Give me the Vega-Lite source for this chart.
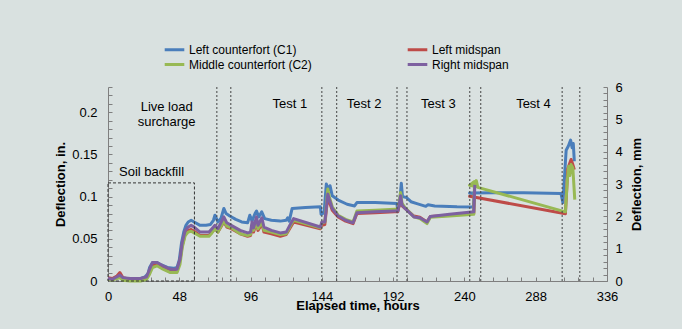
{
  "$schema": "https://vega.github.io/schema/vega-lite/v6.json",
  "width": 499,
  "height": 194,
  "autosize": {"type": "none"},
  "padding": {"left": 108, "top": 87, "right": 75, "bottom": 48},
  "background": "#d9e1e0",
  "config": {
    "font": "Liberation Sans",
    "view": {"stroke": null},
    "axis": {
      "labelFontSize": 13, "titleFontSize": 13, "titleFontWeight": "bold",
      "labelColor": "#000000", "titleColor": "#000000",
      "domainColor": "#7f7f7f", "tickColor": "#7f7f7f", "grid": false,
      "labelFont": "Liberation Sans", "titleFont": "Liberation Sans",
      "labelOverlap": false, "labelFlush": false, "labelBound": false
    },
    "text": {"font": "Liberation Sans"}
  },
  "datasets": {
    "lines": [
      {"s": "Left counterfort (C1)", "t": 0, "d": 0.003},
      {"s": "Left counterfort (C1)", "t": 2, "d": 0.002},
      {"s": "Left counterfort (C1)", "t": 5, "d": 0.004},
      {"s": "Left counterfort (C1)", "t": 7, "d": 0.006},
      {"s": "Left counterfort (C1)", "t": 9, "d": 0.004},
      {"s": "Left counterfort (C1)", "t": 12, "d": 0.003},
      {"s": "Left counterfort (C1)", "t": 18, "d": 0.003},
      {"s": "Left counterfort (C1)", "t": 22, "d": 0.003},
      {"s": "Left counterfort (C1)", "t": 25, "d": 0.005},
      {"s": "Left counterfort (C1)", "t": 27, "d": 0.009},
      {"s": "Left counterfort (C1)", "t": 28, "d": 0.016},
      {"s": "Left counterfort (C1)", "t": 30, "d": 0.022},
      {"s": "Left counterfort (C1)", "t": 33, "d": 0.022},
      {"s": "Left counterfort (C1)", "t": 36, "d": 0.019},
      {"s": "Left counterfort (C1)", "t": 40, "d": 0.016},
      {"s": "Left counterfort (C1)", "t": 44, "d": 0.015},
      {"s": "Left counterfort (C1)", "t": 46.5, "d": 0.016},
      {"s": "Left counterfort (C1)", "t": 48, "d": 0.025},
      {"s": "Left counterfort (C1)", "t": 49.5, "d": 0.045},
      {"s": "Left counterfort (C1)", "t": 51, "d": 0.058},
      {"s": "Left counterfort (C1)", "t": 52.5, "d": 0.066},
      {"s": "Left counterfort (C1)", "t": 54, "d": 0.07},
      {"s": "Left counterfort (C1)", "t": 56, "d": 0.072},
      {"s": "Left counterfort (C1)", "t": 58, "d": 0.07},
      {"s": "Left counterfort (C1)", "t": 62, "d": 0.066},
      {"s": "Left counterfort (C1)", "t": 66, "d": 0.066},
      {"s": "Left counterfort (C1)", "t": 69, "d": 0.067},
      {"s": "Left counterfort (C1)", "t": 71, "d": 0.072},
      {"s": "Left counterfort (C1)", "t": 72, "d": 0.078},
      {"s": "Left counterfort (C1)", "t": 74, "d": 0.07},
      {"s": "Left counterfort (C1)", "t": 76, "d": 0.074},
      {"s": "Left counterfort (C1)", "t": 78, "d": 0.086},
      {"s": "Left counterfort (C1)", "t": 79.5, "d": 0.08},
      {"s": "Left counterfort (C1)", "t": 82, "d": 0.077},
      {"s": "Left counterfort (C1)", "t": 86, "d": 0.073},
      {"s": "Left counterfort (C1)", "t": 90, "d": 0.07},
      {"s": "Left counterfort (C1)", "t": 94, "d": 0.069},
      {"s": "Left counterfort (C1)", "t": 95.5, "d": 0.078},
      {"s": "Left counterfort (C1)", "t": 97, "d": 0.071},
      {"s": "Left counterfort (C1)", "t": 99, "d": 0.08},
      {"s": "Left counterfort (C1)", "t": 100, "d": 0.083},
      {"s": "Left counterfort (C1)", "t": 101.5, "d": 0.076},
      {"s": "Left counterfort (C1)", "t": 103.5, "d": 0.082},
      {"s": "Left counterfort (C1)", "t": 105.5, "d": 0.074},
      {"s": "Left counterfort (C1)", "t": 110, "d": 0.072},
      {"s": "Left counterfort (C1)", "t": 116, "d": 0.071},
      {"s": "Left counterfort (C1)", "t": 120, "d": 0.072},
      {"s": "Left counterfort (C1)", "t": 121, "d": 0.075},
      {"s": "Left counterfort (C1)", "t": 122, "d": 0.071},
      {"s": "Left counterfort (C1)", "t": 124, "d": 0.086},
      {"s": "Left counterfort (C1)", "t": 133, "d": 0.087},
      {"s": "Left counterfort (C1)", "t": 143, "d": 0.088},
      {"s": "Left counterfort (C1)", "t": 143.5, "d": 0.079},
      {"s": "Left counterfort (C1)", "t": 145.5, "d": 0.081},
      {"s": "Left counterfort (C1)", "t": 147, "d": 0.115},
      {"s": "Left counterfort (C1)", "t": 148.5, "d": 0.108},
      {"s": "Left counterfort (C1)", "t": 149.5, "d": 0.113},
      {"s": "Left counterfort (C1)", "t": 151, "d": 0.101},
      {"s": "Left counterfort (C1)", "t": 155, "d": 0.096},
      {"s": "Left counterfort (C1)", "t": 161, "d": 0.091},
      {"s": "Left counterfort (C1)", "t": 166, "d": 0.089},
      {"s": "Left counterfort (C1)", "t": 167.6, "d": 0.093},
      {"s": "Left counterfort (C1)", "t": 180, "d": 0.093},
      {"s": "Left counterfort (C1)", "t": 194.5, "d": 0.092},
      {"s": "Left counterfort (C1)", "t": 195.2, "d": 0.082},
      {"s": "Left counterfort (C1)", "t": 196.5, "d": 0.095},
      {"s": "Left counterfort (C1)", "t": 197.5, "d": 0.116},
      {"s": "Left counterfort (C1)", "t": 198.3, "d": 0.1},
      {"s": "Left counterfort (C1)", "t": 201, "d": 0.099},
      {"s": "Left counterfort (C1)", "t": 204, "d": 0.094},
      {"s": "Left counterfort (C1)", "t": 208, "d": 0.0917},
      {"s": "Left counterfort (C1)", "t": 214, "d": 0.0885},
      {"s": "Left counterfort (C1)", "t": 215.5, "d": 0.0905},
      {"s": "Left counterfort (C1)", "t": 220, "d": 0.089},
      {"s": "Left counterfort (C1)", "t": 235, "d": 0.088},
      {"s": "Left counterfort (C1)", "t": 246, "d": 0.0877},
      {"s": "Left counterfort (C1)", "t": 246.6, "d": 0.1035},
      {"s": "Left counterfort (C1)", "t": 243.5, "d": 0.1043},
      {"s": "Left counterfort (C1)", "t": 260, "d": 0.1045},
      {"s": "Left counterfort (C1)", "t": 280, "d": 0.1045},
      {"s": "Left counterfort (C1)", "t": 305, "d": 0.1037},
      {"s": "Left counterfort (C1)", "t": 306.3, "d": 0.093},
      {"s": "Left counterfort (C1)", "t": 308.5, "d": 0.155},
      {"s": "Left counterfort (C1)", "t": 310, "d": 0.16},
      {"s": "Left counterfort (C1)", "t": 311.5, "d": 0.167},
      {"s": "Left counterfort (C1)", "t": 312.5, "d": 0.158},
      {"s": "Left counterfort (C1)", "t": 313.3, "d": 0.163},
      {"s": "Left counterfort (C1)", "t": 314, "d": 0.142},

      {"s": "Left midspan", "t": 0, "d": 0.004},
      {"s": "Left midspan", "t": 3, "d": 0.003},
      {"s": "Left midspan", "t": 6, "d": 0.006},
      {"s": "Left midspan", "t": 8, "d": 0.01},
      {"s": "Left midspan", "t": 10, "d": 0.004},
      {"s": "Left midspan", "t": 15, "d": 0.002},
      {"s": "Left midspan", "t": 22, "d": 0.002},
      {"s": "Left midspan", "t": 26, "d": 0.004},
      {"s": "Left midspan", "t": 28, "d": 0.012},
      {"s": "Left midspan", "t": 30, "d": 0.019},
      {"s": "Left midspan", "t": 33, "d": 0.02},
      {"s": "Left midspan", "t": 37, "d": 0.016},
      {"s": "Left midspan", "t": 42, "d": 0.013},
      {"s": "Left midspan", "t": 46.5, "d": 0.013},
      {"s": "Left midspan", "t": 48.5, "d": 0.025},
      {"s": "Left midspan", "t": 50, "d": 0.042},
      {"s": "Left midspan", "t": 52, "d": 0.056},
      {"s": "Left midspan", "t": 54, "d": 0.06},
      {"s": "Left midspan", "t": 56, "d": 0.061},
      {"s": "Left midspan", "t": 58, "d": 0.059},
      {"s": "Left midspan", "t": 62, "d": 0.054},
      {"s": "Left midspan", "t": 68, "d": 0.054},
      {"s": "Left midspan", "t": 70, "d": 0.058},
      {"s": "Left midspan", "t": 72, "d": 0.062},
      {"s": "Left midspan", "t": 74, "d": 0.058},
      {"s": "Left midspan", "t": 78, "d": 0.07},
      {"s": "Left midspan", "t": 80, "d": 0.064},
      {"s": "Left midspan", "t": 83, "d": 0.062},
      {"s": "Left midspan", "t": 89, "d": 0.056},
      {"s": "Left midspan", "t": 94, "d": 0.053},
      {"s": "Left midspan", "t": 96, "d": 0.054},
      {"s": "Left midspan", "t": 97, "d": 0.064},
      {"s": "Left midspan", "t": 98, "d": 0.058},
      {"s": "Left midspan", "t": 100, "d": 0.07},
      {"s": "Left midspan", "t": 101, "d": 0.06},
      {"s": "Left midspan", "t": 103.6, "d": 0.068},
      {"s": "Left midspan", "t": 105, "d": 0.058},
      {"s": "Left midspan", "t": 110, "d": 0.056},
      {"s": "Left midspan", "t": 116, "d": 0.053},
      {"s": "Left midspan", "t": 120, "d": 0.055},
      {"s": "Left midspan", "t": 123, "d": 0.064},
      {"s": "Left midspan", "t": 125, "d": 0.07},
      {"s": "Left midspan", "t": 143, "d": 0.062},
      {"s": "Left midspan", "t": 144, "d": 0.066},
      {"s": "Left midspan", "t": 146, "d": 0.067},
      {"s": "Left midspan", "t": 148, "d": 0.1},
      {"s": "Left midspan", "t": 149, "d": 0.094},
      {"s": "Left midspan", "t": 151, "d": 0.084},
      {"s": "Left midspan", "t": 155, "d": 0.076},
      {"s": "Left midspan", "t": 160, "d": 0.071},
      {"s": "Left midspan", "t": 165, "d": 0.068},
      {"s": "Left midspan", "t": 167.6, "d": 0.08},
      {"s": "Left midspan", "t": 180, "d": 0.081},
      {"s": "Left midspan", "t": 193, "d": 0.082},
      {"s": "Left midspan", "t": 195, "d": 0.082},
      {"s": "Left midspan", "t": 196, "d": 0.089},
      {"s": "Left midspan", "t": 197, "d": 0.097},
      {"s": "Left midspan", "t": 198, "d": 0.089},
      {"s": "Left midspan", "t": 200, "d": 0.086},
      {"s": "Left midspan", "t": 206, "d": 0.077},
      {"s": "Left midspan", "t": 210, "d": 0.0755},
      {"s": "Left midspan", "t": 214.8, "d": 0.07},
      {"s": "Left midspan", "t": 217, "d": 0.0765},
      {"s": "Left midspan", "t": 230, "d": 0.078},
      {"s": "Left midspan", "t": 246.3, "d": 0.08},
      {"s": "Left midspan", "t": 246.8, "d": 0.0995},
      {"s": "Left midspan", "t": 243.5, "d": 0.1004},
      {"s": "Left midspan", "t": 308, "d": 0.0798},
      {"s": "Left midspan", "t": 309.6, "d": 0.133},
      {"s": "Left midspan", "t": 311.8, "d": 0.144},
      {"s": "Left midspan", "t": 313, "d": 0.138},
      {"s": "Left midspan", "t": 314, "d": 0.132},

      {"s": "Middle counterfort (C2)", "t": 0, "d": 0.002},
      {"s": "Middle counterfort (C2)", "t": 3, "d": 0.001},
      {"s": "Middle counterfort (C2)", "t": 6, "d": 0.003},
      {"s": "Middle counterfort (C2)", "t": 8, "d": 0.004},
      {"s": "Middle counterfort (C2)", "t": 10, "d": 0.001},
      {"s": "Middle counterfort (C2)", "t": 15, "d": 0.0},
      {"s": "Middle counterfort (C2)", "t": 22, "d": 0.0},
      {"s": "Middle counterfort (C2)", "t": 26, "d": 0.002},
      {"s": "Middle counterfort (C2)", "t": 28, "d": 0.008},
      {"s": "Middle counterfort (C2)", "t": 30, "d": 0.016},
      {"s": "Middle counterfort (C2)", "t": 33, "d": 0.018},
      {"s": "Middle counterfort (C2)", "t": 37, "d": 0.014},
      {"s": "Middle counterfort (C2)", "t": 42, "d": 0.01},
      {"s": "Middle counterfort (C2)", "t": 46.5, "d": 0.01},
      {"s": "Middle counterfort (C2)", "t": 48.5, "d": 0.02},
      {"s": "Middle counterfort (C2)", "t": 50, "d": 0.04},
      {"s": "Middle counterfort (C2)", "t": 52, "d": 0.054},
      {"s": "Middle counterfort (C2)", "t": 54, "d": 0.058},
      {"s": "Middle counterfort (C2)", "t": 56, "d": 0.059},
      {"s": "Middle counterfort (C2)", "t": 58, "d": 0.057},
      {"s": "Middle counterfort (C2)", "t": 62, "d": 0.053},
      {"s": "Middle counterfort (C2)", "t": 68, "d": 0.053},
      {"s": "Middle counterfort (C2)", "t": 70, "d": 0.057},
      {"s": "Middle counterfort (C2)", "t": 72, "d": 0.062},
      {"s": "Middle counterfort (C2)", "t": 74, "d": 0.058},
      {"s": "Middle counterfort (C2)", "t": 78, "d": 0.071},
      {"s": "Middle counterfort (C2)", "t": 80, "d": 0.065},
      {"s": "Middle counterfort (C2)", "t": 83, "d": 0.063},
      {"s": "Middle counterfort (C2)", "t": 89, "d": 0.056},
      {"s": "Middle counterfort (C2)", "t": 94, "d": 0.054},
      {"s": "Middle counterfort (C2)", "t": 96, "d": 0.055},
      {"s": "Middle counterfort (C2)", "t": 97, "d": 0.066},
      {"s": "Middle counterfort (C2)", "t": 98, "d": 0.06},
      {"s": "Middle counterfort (C2)", "t": 100, "d": 0.071},
      {"s": "Middle counterfort (C2)", "t": 101, "d": 0.062},
      {"s": "Middle counterfort (C2)", "t": 103.6, "d": 0.07},
      {"s": "Middle counterfort (C2)", "t": 105, "d": 0.06},
      {"s": "Middle counterfort (C2)", "t": 110, "d": 0.058},
      {"s": "Middle counterfort (C2)", "t": 116, "d": 0.055},
      {"s": "Middle counterfort (C2)", "t": 120, "d": 0.056},
      {"s": "Middle counterfort (C2)", "t": 123, "d": 0.066},
      {"s": "Middle counterfort (C2)", "t": 125, "d": 0.072},
      {"s": "Middle counterfort (C2)", "t": 143, "d": 0.063},
      {"s": "Middle counterfort (C2)", "t": 144, "d": 0.069},
      {"s": "Middle counterfort (C2)", "t": 146, "d": 0.07},
      {"s": "Middle counterfort (C2)", "t": 148, "d": 0.109},
      {"s": "Middle counterfort (C2)", "t": 149, "d": 0.1},
      {"s": "Middle counterfort (C2)", "t": 151, "d": 0.088},
      {"s": "Middle counterfort (C2)", "t": 155, "d": 0.078},
      {"s": "Middle counterfort (C2)", "t": 160, "d": 0.073},
      {"s": "Middle counterfort (C2)", "t": 165, "d": 0.07},
      {"s": "Middle counterfort (C2)", "t": 167.6, "d": 0.083},
      {"s": "Middle counterfort (C2)", "t": 180, "d": 0.084},
      {"s": "Middle counterfort (C2)", "t": 193, "d": 0.085},
      {"s": "Middle counterfort (C2)", "t": 195, "d": 0.085},
      {"s": "Middle counterfort (C2)", "t": 196, "d": 0.092},
      {"s": "Middle counterfort (C2)", "t": 197, "d": 0.105},
      {"s": "Middle counterfort (C2)", "t": 198, "d": 0.092},
      {"s": "Middle counterfort (C2)", "t": 200, "d": 0.087},
      {"s": "Middle counterfort (C2)", "t": 206, "d": 0.076},
      {"s": "Middle counterfort (C2)", "t": 210, "d": 0.074},
      {"s": "Middle counterfort (C2)", "t": 214.8, "d": 0.068},
      {"s": "Middle counterfort (C2)", "t": 217, "d": 0.0755},
      {"s": "Middle counterfort (C2)", "t": 230, "d": 0.077},
      {"s": "Middle counterfort (C2)", "t": 246.3, "d": 0.079},
      {"s": "Middle counterfort (C2)", "t": 246.8, "d": 0.118},
      {"s": "Middle counterfort (C2)", "t": 243.5, "d": 0.1135},
      {"s": "Middle counterfort (C2)", "t": 247.5, "d": 0.112},
      {"s": "Middle counterfort (C2)", "t": 248, "d": 0.119},
      {"s": "Middle counterfort (C2)", "t": 249, "d": 0.111},
      {"s": "Middle counterfort (C2)", "t": 308, "d": 0.082},
      {"s": "Middle counterfort (C2)", "t": 309.3, "d": 0.12},
      {"s": "Middle counterfort (C2)", "t": 310.2, "d": 0.136},
      {"s": "Middle counterfort (C2)", "t": 311, "d": 0.125},
      {"s": "Middle counterfort (C2)", "t": 311.8, "d": 0.138},
      {"s": "Middle counterfort (C2)", "t": 313, "d": 0.134},
      {"s": "Middle counterfort (C2)", "t": 314.3, "d": 0.0965},

      {"s": "Right midspan", "t": 0, "d": 0.003},
      {"s": "Right midspan", "t": 3, "d": 0.002},
      {"s": "Right midspan", "t": 6, "d": 0.005},
      {"s": "Right midspan", "t": 8, "d": 0.007},
      {"s": "Right midspan", "t": 10, "d": 0.004},
      {"s": "Right midspan", "t": 15, "d": 0.003},
      {"s": "Right midspan", "t": 22, "d": 0.003},
      {"s": "Right midspan", "t": 26, "d": 0.005},
      {"s": "Right midspan", "t": 28, "d": 0.014},
      {"s": "Right midspan", "t": 30, "d": 0.022},
      {"s": "Right midspan", "t": 33, "d": 0.022},
      {"s": "Right midspan", "t": 37, "d": 0.018},
      {"s": "Right midspan", "t": 42, "d": 0.014},
      {"s": "Right midspan", "t": 46.5, "d": 0.014},
      {"s": "Right midspan", "t": 48.5, "d": 0.026},
      {"s": "Right midspan", "t": 50, "d": 0.046},
      {"s": "Right midspan", "t": 52, "d": 0.06},
      {"s": "Right midspan", "t": 54, "d": 0.064},
      {"s": "Right midspan", "t": 56, "d": 0.066},
      {"s": "Right midspan", "t": 58, "d": 0.064},
      {"s": "Right midspan", "t": 62, "d": 0.058},
      {"s": "Right midspan", "t": 68, "d": 0.058},
      {"s": "Right midspan", "t": 70, "d": 0.062},
      {"s": "Right midspan", "t": 72, "d": 0.066},
      {"s": "Right midspan", "t": 74, "d": 0.062},
      {"s": "Right midspan", "t": 78, "d": 0.076},
      {"s": "Right midspan", "t": 80, "d": 0.069},
      {"s": "Right midspan", "t": 83, "d": 0.066},
      {"s": "Right midspan", "t": 89, "d": 0.06},
      {"s": "Right midspan", "t": 94, "d": 0.057},
      {"s": "Right midspan", "t": 96, "d": 0.058},
      {"s": "Right midspan", "t": 97, "d": 0.07},
      {"s": "Right midspan", "t": 98, "d": 0.063},
      {"s": "Right midspan", "t": 100, "d": 0.076},
      {"s": "Right midspan", "t": 101, "d": 0.066},
      {"s": "Right midspan", "t": 103.6, "d": 0.075},
      {"s": "Right midspan", "t": 105, "d": 0.064},
      {"s": "Right midspan", "t": 110, "d": 0.06},
      {"s": "Right midspan", "t": 116, "d": 0.057},
      {"s": "Right midspan", "t": 120, "d": 0.058},
      {"s": "Right midspan", "t": 123, "d": 0.068},
      {"s": "Right midspan", "t": 125, "d": 0.074},
      {"s": "Right midspan", "t": 143, "d": 0.064},
      {"s": "Right midspan", "t": 144, "d": 0.07},
      {"s": "Right midspan", "t": 146, "d": 0.07},
      {"s": "Right midspan", "t": 148, "d": 0.103},
      {"s": "Right midspan", "t": 149, "d": 0.097},
      {"s": "Right midspan", "t": 151, "d": 0.086},
      {"s": "Right midspan", "t": 155, "d": 0.077},
      {"s": "Right midspan", "t": 160, "d": 0.072},
      {"s": "Right midspan", "t": 165, "d": 0.069},
      {"s": "Right midspan", "t": 167.6, "d": 0.081},
      {"s": "Right midspan", "t": 180, "d": 0.082},
      {"s": "Right midspan", "t": 193, "d": 0.083},
      {"s": "Right midspan", "t": 195, "d": 0.083},
      {"s": "Right midspan", "t": 196, "d": 0.09},
      {"s": "Right midspan", "t": 197, "d": 0.101},
      {"s": "Right midspan", "t": 198, "d": 0.09},
      {"s": "Right midspan", "t": 200, "d": 0.086},
      {"s": "Right midspan", "t": 206, "d": 0.076},
      {"s": "Right midspan", "t": 210, "d": 0.075},
      {"s": "Right midspan", "t": 214.8, "d": 0.07},
      {"s": "Right midspan", "t": 217, "d": 0.0766},
      {"s": "Right midspan", "t": 230, "d": 0.079},
      {"s": "Right midspan", "t": 246.3, "d": 0.082},
      {"s": "Right midspan", "t": 247, "d": 0.114}
    ],
    "notes": [
      {"label": "Live load\nsurcharge", "t": 39.5, "d": 0.2064},
      {"label": "Soil backfill", "t": 29.3, "d": 0.1288},
      {"label": "Test 1", "t": 122.5, "d": 0.2102},
      {"label": "Test 2", "t": 172.4, "d": 0.2102},
      {"label": "Test 3", "t": 222.4, "d": 0.2102},
      {"label": "Test 4", "t": 286.5, "d": 0.2102}
    ],
    "marks": [
      {"t": 73.3}, {"t": 82.7}, {"t": 144}, {"t": 154}, {"t": 194.6},
      {"t": 201.3}, {"t": 243.6}, {"t": 251}, {"t": 305.8}, {"t": 317.7}
    ],
    "box": [{"t": 0, "t2": 58.2, "d": 0, "d2": 0.1163}],
    "mm": [{"mm": 0}, {"mm": 6}]
  },
  "layer": [
    {
      "layer": [
        {
          "data": {"name": "lines"},
          "mark": {"type": "line", "strokeWidth": 3, "strokeJoin": "round"},
          "encoding": {
            "x": {
              "field": "t", "type": "quantitative", "title": "Elapsed time, hours",
              "scale": {"domain": [0, 336], "nice": false},
              "axis": {
                "values": [0, 9.6, 19.2, 28.8, 38.4, 48, 57.6, 67.2, 76.8, 86.4, 96, 105.6, 115.2, 124.8, 134.4, 144, 153.6, 163.2, 172.8, 182.4, 192, 201.6, 211.2, 220.8, 230.4, 240, 249.6, 259.2, 268.8, 278.4, 288, 297.6, 307.2, 316.8, 326.4, 336],
                "labelExpr": "datum.value % 48 === 0 ? '' + datum.value : ''",
                "labelOverlap": false,
                "tickSize": -4,
                "labelPadding": 13,
                "titlePadding": -4
              }
            },
            "y": {
              "field": "d", "type": "quantitative", "title": "Deflection, in.",
              "scale": {"domain": [0, 0.23], "nice": false},
              "axis": {
                "values": [0, 0.01, 0.02, 0.03, 0.04, 0.05, 0.06, 0.07, 0.08, 0.09, 0.1, 0.11, 0.12, 0.13, 0.14, 0.15, 0.16, 0.17, 0.18, 0.19, 0.2, 0.21, 0.22, 0.23],
                "labelExpr": "round(datum.value * 100) % 5 === 0 ? '' + datum.value : ''",
                "labelOverlap": false,
                "tickSize": -4,
                "labelPadding": 15,
                "titlePadding": 4
              }
            },
            "color": {
              "field": "s", "type": "nominal",
              "scale": {
                "domain": ["Left counterfort (C1)", "Middle counterfort (C2)", "Left midspan", "Right midspan"],
                "range": ["#4a7ebb", "#98b954", "#be4b48", "#7d60a0"]
              },
              "legend": {
                "orient": "none", "legendX": 58, "legendY": -46, "columns": 2,
                "columnPadding": 89, "rowPadding": 0, "symbolType": "M-1.4,0H1.4",
                "symbolSize": 196, "symbolStrokeWidth": 3, "labelFontSize": 12,
                "labelOffset": 6, "title": null, "labelColor": "#000000",
                "labelFont": "Liberation Sans", "labelLimit": 0
              }
            },
            "order": {"value": null}
          }
        },
        {
          "data": {"name": "box"},
          "mark": {"type": "rect", "fillOpacity": 0, "stroke": "#333333", "strokeDash": [3, 2], "strokeWidth": 1},
          "encoding": {
            "x": {"field": "t", "type": "quantitative", "title": "Elapsed time, hours", "scale": {"domain": [0, 336], "nice": false},
              "axis": {
                "values": [0, 9.6, 19.2, 28.8, 38.4, 48, 57.6, 67.2, 76.8, 86.4, 96, 105.6, 115.2, 124.8, 134.4, 144, 153.6, 163.2, 172.8, 182.4, 192, 201.6, 211.2, 220.8, 230.4, 240, 249.6, 259.2, 268.8, 278.4, 288, 297.6, 307.2, 316.8, 326.4, 336],
                "labelExpr": "datum.value % 48 === 0 ? '' + datum.value : ''",
                "labelOverlap": false,
                "tickSize": -4,
                "labelPadding": 13,
                "titlePadding": -4
              }},
            "x2": {"field": "t2"},
            "y": {"field": "d", "type": "quantitative", "title": "Deflection, in.", "scale": {"domain": [0, 0.23], "nice": false},
              "axis": {
                "values": [0, 0.01, 0.02, 0.03, 0.04, 0.05, 0.06, 0.07, 0.08, 0.09, 0.1, 0.11, 0.12, 0.13, 0.14, 0.15, 0.16, 0.17, 0.18, 0.19, 0.2, 0.21, 0.22, 0.23],
                "labelExpr": "round(datum.value * 100) % 5 === 0 ? '' + datum.value : ''",
                "labelOverlap": false,
                "tickSize": -4,
                "labelPadding": 15,
                "titlePadding": 4
              }},
            "y2": {"field": "d2"}
          }
        },
        {
          "data": {"name": "marks"},
          "mark": {"type": "rule", "color": "#444444", "strokeDash": [2, 2], "strokeWidth": 1},
          "encoding": {
            "x": {"field": "t", "type": "quantitative", "title": "Elapsed time, hours", "scale": {"domain": [0, 336], "nice": false},
              "axis": {
                "values": [0, 9.6, 19.2, 28.8, 38.4, 48, 57.6, 67.2, 76.8, 86.4, 96, 105.6, 115.2, 124.8, 134.4, 144, 153.6, 163.2, 172.8, 182.4, 192, 201.6, 211.2, 220.8, 230.4, 240, 249.6, 259.2, 268.8, 278.4, 288, 297.6, 307.2, 316.8, 326.4, 336],
                "labelExpr": "datum.value % 48 === 0 ? '' + datum.value : ''",
                "labelOverlap": false,
                "tickSize": -4,
                "labelPadding": 13,
                "titlePadding": -4
              }}
          }
        },
        {
          "data": {"name": "notes"},
          "mark": {"type": "text", "fontSize": 13, "color": "#000000", "align": "center", "baseline": "middle", "lineBreak": "\n", "lineHeight": 15},
          "encoding": {
            "x": {"field": "t", "type": "quantitative", "title": "Elapsed time, hours", "scale": {"domain": [0, 336], "nice": false},
              "axis": {
                "values": [0, 9.6, 19.2, 28.8, 38.4, 48, 57.6, 67.2, 76.8, 86.4, 96, 105.6, 115.2, 124.8, 134.4, 144, 153.6, 163.2, 172.8, 182.4, 192, 201.6, 211.2, 220.8, 230.4, 240, 249.6, 259.2, 268.8, 278.4, 288, 297.6, 307.2, 316.8, 326.4, 336],
                "labelExpr": "datum.value % 48 === 0 ? '' + datum.value : ''",
                "labelOverlap": false,
                "tickSize": -4,
                "labelPadding": 13,
                "titlePadding": -4
              }},
            "y": {"field": "d", "type": "quantitative", "title": "Deflection, in.", "scale": {"domain": [0, 0.23], "nice": false},
              "axis": {
                "values": [0, 0.01, 0.02, 0.03, 0.04, 0.05, 0.06, 0.07, 0.08, 0.09, 0.1, 0.11, 0.12, 0.13, 0.14, 0.15, 0.16, 0.17, 0.18, 0.19, 0.2, 0.21, 0.22, 0.23],
                "labelExpr": "round(datum.value * 100) % 5 === 0 ? '' + datum.value : ''",
                "labelOverlap": false,
                "tickSize": -4,
                "labelPadding": 15,
                "titlePadding": 4
              }},
            "text": {"field": "label"}
          }
        }
      ]
    },
    {
      "data": {"name": "mm"},
      "mark": {"type": "point", "opacity": 0},
      "encoding": {
        "y": {
          "field": "mm", "type": "quantitative", "title": "Deflection, mm",
          "scale": {"domain": [0, 6], "nice": false},
          "axis": {
            "orient": "right",
            "values": [0, 0.2, 0.4, 0.6, 0.8, 1, 1.2, 1.4, 1.6, 1.8, 2, 2.2, 2.4, 2.6, 2.8, 3, 3.2, 3.4, 3.6, 3.8, 4, 4.2, 4.4, 4.6, 4.8, 5, 5.2, 5.4, 5.6, 5.8, 6],
            "labelExpr": "datum.value % 1 === 0 ? '' + datum.value : ''",
            "labelOverlap": false,
            "tickSize": -4,
            "labelPadding": 12,
            "titleAngle": -90,
            "titleBaseline": "top",
            "titlePadding": 8
          }
        }
      }
    }
  ],
  "resolve": {"scale": {"y": "independent"}}
}
